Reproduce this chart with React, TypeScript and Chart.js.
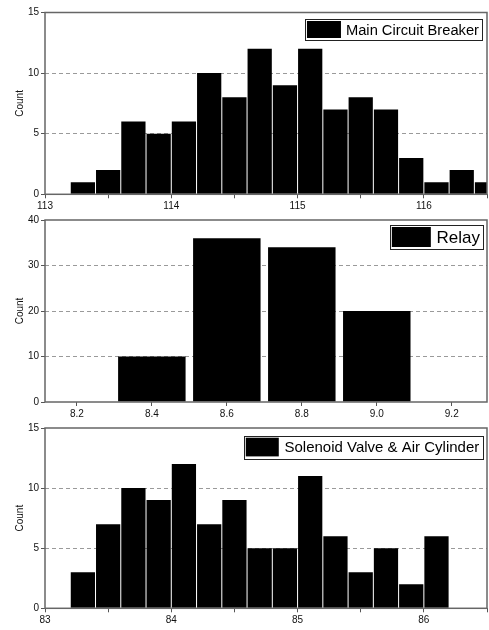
import React, { useEffect, useRef } from 'react';
import { Chart, registerables } from 'chart.js';

Chart.register(...registerables);

const FONT = '"Liberation Sans", Arial, Helvetica, sans-serif';

// ---- Panel 1: Main Circuit Breaker ----
const mcbLabel = 'Main Circuit Breaker';
const mcbBinCenters = [113.3, 113.5, 113.7, 113.9, 114.1, 114.3, 114.5, 114.7, 114.9, 115.1, 115.3, 115.5, 115.7, 115.9, 116.1, 116.3, 116.5];
const mcbCounts = [1, 2, 6, 5, 6, 10, 8, 12, 9, 12, 7, 8, 7, 3, 1, 2, 1];
const mcbXTickLabels = ['113', '114', '115', '116'];
const mcbYTicks = [0, 5, 10, 15];

// ---- Panel 2: Relay ----
const relayLabel = 'Relay';
const relayBinCenters = [8.4, 8.6, 8.8, 9.0];
const relayCounts = [10, 36, 34, 20];
const relayXTickLabels = ['8.2', '8.4', '8.6', '8.8', '9.0', '9.2'];
const relayYTicks = [0, 10, 20, 30, 40];

// ---- Panel 3: Solenoid Valve & Air Cylinder ----
const svLabel = 'Solenoid Valve & Air Cylinder';
const svBinCenters = [83.3, 83.5, 83.7, 83.9, 84.1, 84.3, 84.5, 84.7, 84.9, 85.1, 85.3, 85.5, 85.7, 85.9, 86.1];
const svCounts = [3, 7, 10, 9, 12, 7, 9, 5, 5, 11, 6, 3, 5, 2, 6];
const svXTickLabels = ['83', '84', '85', '86'];
const svYTicks = [0, 5, 10, 15];

const yTitle = 'Count';

type PanelSpec = {
  label: string;
  centers: number[];
  counts: number[];
  xMin: number;
  xMax: number;
  xStep: number;
  xDecimals: number;
  xTickLabels: string[];
  yTicks: number[];
  barPct: number;
  canvasTop: number;
  canvasHeight: number;
  areaTop: number;
  areaBottom: number;
  legend: { fontSize: number; swatchW: number; boxH: number; topOff: number; rightOff: number; gap: number };
};

const panels: PanelSpec[] = [
  {
    label: mcbLabel,
    centers: mcbBinCenters,
    counts: mcbCounts,
    xMin: 113,
    xMax: 116.5,
    xStep: 0.5,
    xDecimals: 0,
    xTickLabels: mcbXTickLabels,
    yTicks: mcbYTicks,
    barPct: 0.96,
    canvasTop: 0,
    canvasHeight: 214,
    areaTop: 12.5,
    areaBottom: 194.3,
    legend: { fontSize: 14.7, swatchW: 34, boxH: 21, topOff: 6.5, rightOff: 5, gap: 5 },
  },
  {
    label: relayLabel,
    centers: relayBinCenters,
    counts: relayCounts,
    xMin: 8.115,
    xMax: 9.294,
    xStep: 0.2,
    xDecimals: 1,
    xTickLabels: relayXTickLabels,
    yTicks: relayYTicks,
    barPct: 0.9,
    canvasTop: 212,
    canvasHeight: 208,
    areaTop: 8,
    areaBottom: 190,
    legend: { fontSize: 17, swatchW: 39, boxH: 24, topOff: 5, rightOff: 4, gap: 5.7 },
  },
  {
    label: svLabel,
    centers: svBinCenters,
    counts: svCounts,
    xMin: 83,
    xMax: 86.5,
    xStep: 0.5,
    xDecimals: 0,
    xTickLabels: svXTickLabels,
    yTicks: svYTicks,
    barPct: 0.96,
    canvasTop: 420,
    canvasHeight: 210,
    areaTop: 7.3,
    areaBottom: 188.3,
    legend: { fontSize: 15, swatchW: 33, boxH: 22.7, topOff: 7.7, rightOff: 4.7, gap: 5.7 },
  },
];

function Panel({ spec }: { spec: PanelSpec }) {
  const ref = useRef<HTMLCanvasElement>(null);

  useEffect(() => {
    const canvas = ref.current;
    if (!canvas) return;
    const s = spec;
    const yMax = s.yTicks[s.yTicks.length - 1];
    const yStep = s.yTicks[1] - s.yTicks[0];

    const framePlugin = {
      id: 'frame',
      afterDatasetsDraw(chart: any) {
        const { ctx, chartArea } = chart;
        ctx.save();
        ctx.strokeStyle = '#666';
        ctx.lineWidth = 1.5;
        ctx.strokeRect(chartArea.left, chartArea.top, chartArea.right - chartArea.left, chartArea.bottom - chartArea.top);
        ctx.restore();
      },
    };

    const legendPlugin = {
      id: 'boxLegend',
      afterDraw(chart: any) {
        const { ctx, chartArea } = chart;
        const L = s.legend;
        const text = chart.data.datasets[0].label as string;
        ctx.save();
        ctx.font = `${L.fontSize}px ${FONT}`;
        const tw = ctx.measureText(text).width;
        const right = chartArea.right - L.rightOff;
        const w = 2 + L.swatchW + L.gap + tw + 3;
        const left = right - w;
        const top = chartArea.top + L.topOff;
        ctx.fillStyle = '#fff';
        ctx.fillRect(left, top, w, L.boxH);
        ctx.strokeStyle = '#222';
        ctx.lineWidth = 1;
        ctx.strokeRect(Math.round(left) + 0.5, Math.round(top) + 0.5, Math.round(w), Math.round(L.boxH));
        ctx.fillStyle = '#000';
        ctx.fillRect(left + 2, top + 2, L.swatchW, L.boxH - 4);
        ctx.textBaseline = 'middle';
        ctx.textAlign = 'left';
        ctx.fillText(text, left + 2 + L.swatchW + L.gap, top + L.boxH / 2 + 1);
        ctx.restore();
      },
    };

    const chart = new Chart(canvas, {
      type: 'bar',
      data: {
        datasets: [
          {
            label: s.label,
            data: s.centers.map((c, i) => ({ x: c, y: s.counts[i] })),
            backgroundColor: '#000',
            borderWidth: 0,
            barPercentage: s.barPct,
            categoryPercentage: 1,
          },
        ],
      },
      options: {
        responsive: false,
        animation: false,
        devicePixelRatio: 1,
        layout: { padding: { top: s.areaTop, right: 2, left: 0, bottom: 0 } },
        plugins: {
          legend: { display: false },
          tooltip: { enabled: false },
          title: { display: false },
        },
        scales: {
          x: {
            type: 'linear',
            min: s.xMin,
            max: s.xMax,
            offset: false,
            grid: {
              display: true,
              drawOnChartArea: false,
              drawTicks: true,
              tickLength: 4,
              tickColor: '#555',
              offset: false,
            },
            border: { display: false },
            ticks: {
              stepSize: s.xStep,
              includeBounds: false,
              autoSkip: false,
              maxRotation: 0,
              minRotation: 0,
              padding: 2,
              color: '#111',
              font: { family: FONT, size: 10 },
              callback: (v: any) => {
                const str = Number(v).toFixed(s.xDecimals);
                const exact = Math.abs(Number(str) - Number(v)) < 1e-6;
                return exact && s.xTickLabels.includes(str) ? str : '';
              },
            },
            afterFit: (sc: any) => {
              sc.height = s.canvasHeight - s.areaBottom;
            },
          },
          y: {
            type: 'linear',
            min: 0,
            max: yMax,
            grid: {
              color: (ctx: any) =>
                ctx.tick && (ctx.tick.value === 0 || ctx.tick.value === yMax) ? 'rgba(0,0,0,0)' : '#9a9a9a',
              lineWidth: 1,
              drawTicks: true,
              tickLength: 4,
              tickColor: '#555',
            },
            border: { display: false, dash: [4, 3] },
            ticks: {
              stepSize: yStep,
              autoSkip: false,
              padding: 2,
              color: '#111',
              font: { family: FONT, size: 10 },
              callback: (v: any) => (s.yTicks.includes(Number(v)) ? String(v) : ''),
            },
            title: {
              display: true,
              text: yTitle,
              color: '#111',
              font: { family: FONT, size: 10 },
              padding: { top: 14.7, bottom: 0 },
            },
            afterFit: (sc: any) => {
              sc.width = 45;
            },
          },
        },
      } as any,
      plugins: [framePlugin, legendPlugin],
    });

    return () => {
      chart.destroy();
    };
  }, [spec]);

  return (
    <canvas
      ref={ref}
      width={489}
      height={spec.canvasHeight}
      style={{ position: 'absolute', left: 0, top: spec.canvasTop, width: 489, height: spec.canvasHeight, display: 'block' }}
    />
  );
}

export default function App() {
  return (
    <div style={{ position: 'absolute', left: 0, top: 0, width: 489, height: 630, background: '#fff', overflow: 'hidden' }}>
      {panels.map((p) => (
        <Panel key={p.label} spec={p} />
      ))}
    </div>
  );
}
